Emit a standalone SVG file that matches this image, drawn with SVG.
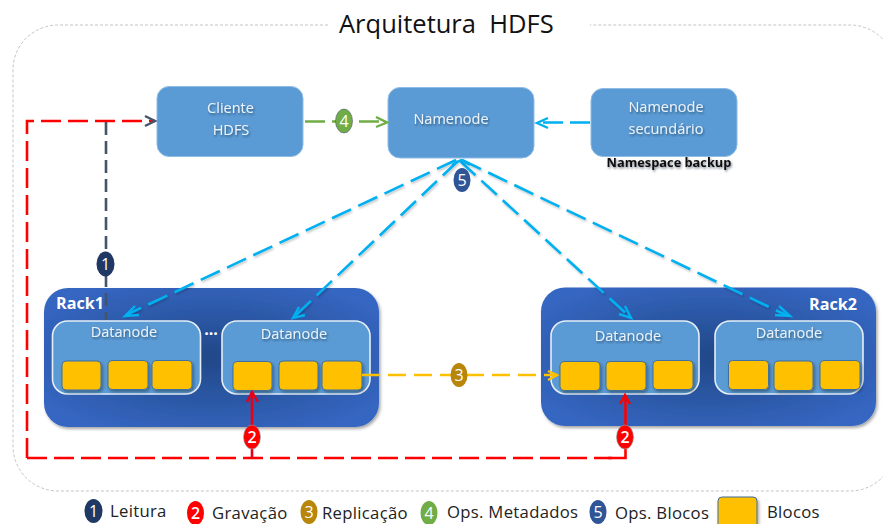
<svg xmlns="http://www.w3.org/2000/svg" width="883" height="524" viewBox="0 0 883 524">
<defs>
<style>
text{font-family:"Open Sans","Noto Sans","Liberation Sans",sans-serif}
.box{fill:#5b9bd5;stroke:#8fbce4;stroke-width:1}
.dn{fill:#5b9bd5;stroke:#e6eef6;stroke-width:1.6}
.blk{fill:#ffc000;stroke:#3f6f9f;stroke-width:1;filter:url(#sh)}
.rack{fill:url(#rg);filter:url(#sh)}
.lbl{fill:#eaf2fa;font-size:14.5px;text-anchor:middle;filter:url(#ts)}
.rk{fill:#fff;font-size:16.200px;font-weight:700}
.leg{fill:#222;font-size:16.700px;letter-spacing:.3px}
.num{fill:#fff;font-size:16px;text-anchor:middle}
.c{fill:none;stroke-width:2.6}
.blue{stroke:#00b0f0;stroke-dasharray:21 8;filter:url(#ls)}
.hd{fill:none;stroke-width:2.4}
</style>
<radialGradient id="rg" cx="50%" cy="50%" r="60%"><stop offset="0" stop-color="#214888"/><stop offset="1" stop-color="#3566c1"/></radialGradient>
<filter id="sh" x="-10%" y="-10%" width="125%" height="130%"><feDropShadow dx="1.5" dy="2" stdDeviation="1.5" flood-color="#000" flood-opacity=".35"/></filter>
<filter id="ts" x="-20%" y="-30%" width="140%" height="170%"><feDropShadow dx="1" dy="1.5" stdDeviation="1" flood-color="#123" flood-opacity=".55"/></filter>
<filter id="ls" x="-10%" y="-10%" width="120%" height="120%"><feDropShadow dx="1" dy="1.5" stdDeviation="1" flood-color="#000" flood-opacity=".25"/></filter>
</defs>
<rect width="883" height="524" fill="#fff"/>
<path d="M328 25H58A45 45 0 0 0 13 70V446A45 45 0 0 0 58 491H850A45 45 0 0 0 895 446V70A45 45 0 0 0 850 25H590" fill="none" stroke="#c4c4c4" stroke-dasharray="3 2"/>
<text x="339" y="33" font-size="25.500" fill="#111" xml:space="preserve" id="title">Arquitetura  HDFS</text>

<g id="cliente"><rect class="box" x="157" y="86.500" width="146" height="70" rx="12"/><text class="lbl" x="230.500" y="113">Cliente</text><text class="lbl" x="231" y="135">HDFS</text></g>
<g id="namenode"><rect class="box" x="388" y="87.500" width="146" height="70.500" rx="12"/><text class="lbl" x="451" y="124">Namenode</text></g>
<g id="secundario"><rect class="box" x="591" y="88.500" width="146" height="68" rx="12"/><text class="lbl" x="666" y="112">Namenode</text><text class="lbl" x="666" y="134">secundário</text></g>
<text id="backup" x="669" y="167" font-size="12.800" font-weight="700" fill="#111" text-anchor="middle" filter="url(#ts)">Namespace backup</text>

<g id="rack1"><rect class="rack" x="44" y="288" width="335" height="139" rx="24"/><text class="rk" x="56" y="309">Rack1</text></g>
<g id="rack2"><rect class="rack" x="541" y="287.500" width="335" height="138.500" rx="24"/><text class="rk" x="809" y="310">Rack2</text></g>
<text x="211" y="335" fill="#fff" font-size="16" font-weight="700" text-anchor="middle">...</text>

<g id="dn1"><rect class="dn" x="52.500" y="321" width="148" height="73" rx="15"/><text class="lbl" x="124" y="337">Datanode</text>
<rect class="blk" x="62" y="361" width="39" height="29" rx="4"/><rect class="blk" x="108" y="360.500" width="40" height="29" rx="4"/><rect class="blk" x="152" y="360.500" width="40" height="29" rx="4"/></g>
<g id="dn2"><rect class="dn" x="222" y="321" width="148" height="73" rx="15"/><text class="lbl" x="294" y="339">Datanode</text>
<rect class="blk" x="233" y="361.500" width="39" height="29" rx="4"/><rect class="blk" x="279" y="361" width="39" height="29" rx="4"/><rect class="blk" x="322" y="361" width="40" height="29" rx="4"/></g>
<g id="dn3"><rect class="dn" x="551" y="321" width="148" height="73" rx="15"/><text class="lbl" x="628" y="341">Datanode</text>
<rect class="blk" x="560" y="361.500" width="40" height="29" rx="4"/><rect class="blk" x="606" y="361.500" width="40" height="29" rx="4"/><rect class="blk" x="653" y="360.500" width="40" height="29" rx="4"/></g>
<g id="dn4"><rect class="dn" x="715" y="321" width="148" height="73" rx="15"/><text class="lbl" x="789" y="338">Datanode</text>
<rect class="blk" x="728.500" y="360.500" width="40" height="29" rx="4"/><rect class="blk" x="774" y="361" width="39" height="29.500" rx="4"/><rect class="blk" x="820" y="360.500" width="40" height="29" rx="4"/></g>

<g id="connectors">
<path class="c" d="M27 458V121H155" stroke="#f00" stroke-dasharray="20 7"/>
<path class="c" d="M27 458H612" stroke="#f00" stroke-dasharray="20 7"/>
<path class="c" d="M608 458H625.500V449" stroke="#f00"/>
<path class="c" d="M106 122V320" stroke="#44546a" stroke-dasharray="13 6"/>
<path class="hd" d="M145 116L155 121L145 126" stroke="#44546a"/>
<path class="c" d="M252 458V393" stroke="#e8001a"/><path class="hd" d="M247 402L252 392L258 402" stroke="#e8001a"/>
<path class="c" d="M625.500 425V396" stroke="#f00"/><path class="hd" d="M620 404L625 395L630 404" stroke="#f00"/>
<path class="c" d="M305 121.500H386" stroke="#70ad47" stroke-dasharray="20 7"/><path class="hd" d="M376 117L387 122.500L376 127" stroke="#70ad47"/>
<path class="c" d="M590 122.500H538" stroke="#00b0f0" stroke-dasharray="20 7"/><path class="hd" d="M548 118L537 123L548 128" stroke="#00b0f0"/>
<path class="c" d="M362 375H557" stroke="#ffc000" stroke-width="2" stroke-dasharray="18 8"/><path class="hd" d="M548 371L557 375L548 380" stroke="#ffc000"/>
<path class="c blue" d="M456 160L126 315"/><path class="hd" d="M135 306L125 316L139 315" stroke="#00b0f0"/>
<path class="c blue" d="M458 161L294 317"/><path class="hd" d="M299 307L293 318L305 315" stroke="#00b0f0"/>
<path class="c blue" d="M460 161L630 317"/><path class="hd" d="M625 306L631 318L619 314" stroke="#00b0f0"/>
<path class="c blue" d="M462 160L788 316"/><path class="hd" d="M779 306L790 316L775 315" stroke="#00b0f0"/>
<path class="hd" d="M452 165L461 160L470 165" stroke="#00b0f0"/>
</g>

<g id="badges">
<ellipse cx="105.500" cy="264" rx="9" ry="12.500" fill="#1f3864"/><text class="num" x="105.500" y="270">1</text>
<ellipse cx="252" cy="437" rx="8.500" ry="12" fill="#f00" stroke="#8aa" stroke-width=".6"/><text class="num" x="252" y="443" font-weight="600">2</text>
<ellipse cx="625" cy="437" rx="8.500" ry="12" fill="#f00" stroke="#8aa" stroke-width=".6"/><text class="num" x="625" y="443" font-weight="600">2</text>
<ellipse cx="459" cy="375" rx="8.500" ry="12" fill="#b8860b"/><text class="num" x="459" y="381">3</text>
<ellipse cx="344" cy="121" rx="8.500" ry="12" fill="#70ad47" stroke="#557" stroke-width=".6"/><text class="num" x="344" y="127">4</text>
<ellipse cx="462" cy="180" rx="8.500" ry="12" fill="#2f5597"/><text class="num" x="462" y="186">5</text>
</g>

<g id="legend">
<ellipse cx="93.500" cy="511" rx="9" ry="12" fill="#1f3864"/><text class="num" x="93.500" y="517">1</text><text class="leg" x="110" y="517">Leitura</text>
<ellipse cx="195.500" cy="513" rx="8.500" ry="12" fill="#f00"/><text class="num" x="195.500" y="519" font-weight="600">2</text><text class="leg" x="212" y="519">Gravação</text>
<ellipse cx="309" cy="512" rx="8.500" ry="12" fill="#b8860b"/><text class="num" x="309" y="518">3</text><text class="leg" x="322" y="519">Replicação</text>
<ellipse cx="429" cy="513" rx="8.500" ry="12" fill="#70ad47"/><text class="num" x="429" y="519">4</text><text class="leg" x="447" y="518">Ops. Metadados</text>
<ellipse cx="598" cy="512" rx="8.500" ry="12" fill="#2f5597"/><text class="num" x="598" y="518">5</text><text class="leg" x="615" y="519">Ops. Blocos</text>
<rect class="blk" x="718" y="497" width="39" height="32" rx="4"/><text class="leg" x="767" y="518">Blocos</text>
</g>
</svg>
